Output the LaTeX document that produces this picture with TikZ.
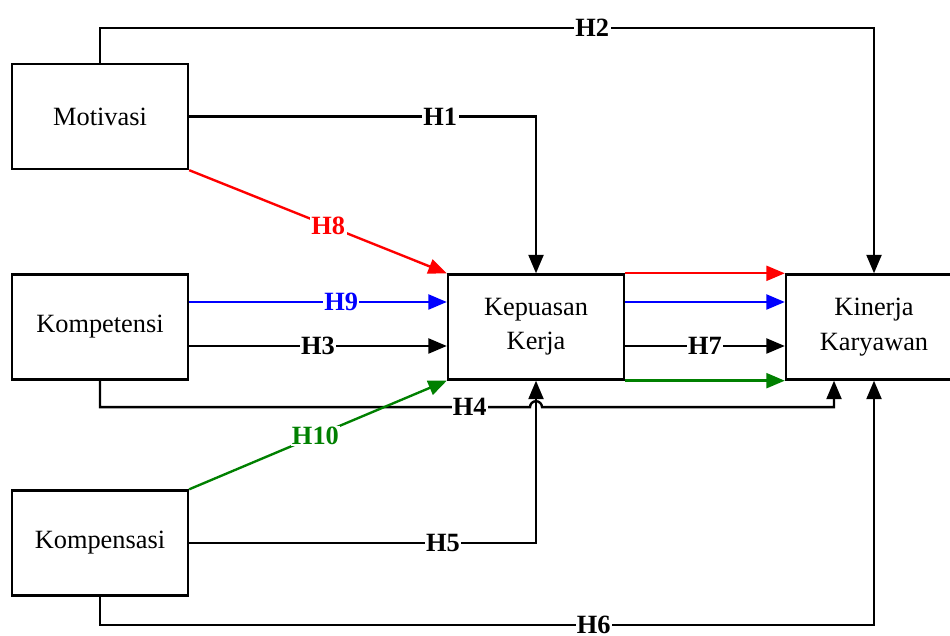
\documentclass[tikz,border=0pt]{standalone}
\usepackage{fontspec}
\setmainfont{Liberation Serif}
\usetikzlibrary{arrows.meta,calc}
\definecolor{lineG}{rgb}{0,0.5,0}

\begin{document}
\begin{tikzpicture}[>={Triangle[length=10.5pt,width=8.5pt]}, line width=1.35pt,
  box/.style={draw, line width=1.35pt, minimum width=3.52cm, minimum height=2.1cm,
    align=center, font=\fontsize{15}{19.5}\selectfont},
  hlab/.style={fill=white, inner sep=0.8pt, font=\fontsize{15}{18}\selectfont\bfseries}]
\useasboundingbox (0,0) rectangle (19,12.7);
% ---------- 变量 ----------
\node[box] (mot)   at (2.0,10.37) {Motivasi};
\node[box] (komp)  at (2.0,6.16)  {Kompetensi};
\node[box] (komps) at (2.0,1.84)  {Kompensasi};
\node[box] (kep)   at (10.72,6.16) {Kepuasan\\Kerja};
\node[box] (kin)   at (17.48,6.16) {Kinerja\\Karyawan};
% ---------- 直接效应 ----------
\draw[->] (mot.north) -- (mot.north |- 0,12.14) -| node[hlab, pos=0.318] {H2} (kin.north);
\draw[->] (mot.east) -| node[hlab, pos=0.362] {H1} (kep.north);
\draw[->] ([yshift=-0.38cm]komp.east) -- node[hlab, pos=0.5] {H3} ([yshift=-0.38cm]kep.west);
\draw[->] (komp.south) |- node[hlab, pos=0.93] {H4} ($(kep.south)+(-0.12,-0.53)$)
  arc (180:0:0.12) -| ([xshift=-0.8cm]kin.south);
\draw[->] (komps.east) -| node[hlab, pos=0.366] {H5} (kep.south);
\draw[->] (komps.south) -- (komps.south |- 0,0.2) -| node[hlab, pos=0.319] {H6} (kin.south);
\draw[->] ([yshift=-0.38cm]kep.east) -- node[hlab, pos=0.5] {H7} ([yshift=-0.38cm]kin.west);
% ---------- 中介效应 ----------
\draw[->, red] (mot.south east) -- node[hlab, pos=0.54] {H8} (kep.north west);
\draw[->, blue] ([yshift=0.5cm]komp.east) -- node[hlab, pos=0.59] {H9} ([yshift=0.5cm]kep.west);
\draw[->, lineG] (komps.north east) -- node[hlab, pos=0.49] {H10} (kep.south west);
\draw[->, red] (kep.north east) -- (kin.north west);
\draw[->, blue] ([yshift=0.5cm]kep.east) -- ([yshift=0.5cm]kin.west);
\draw[->, lineG] (kep.south east) -- (kin.south west);
\end{tikzpicture}
\end{document}
